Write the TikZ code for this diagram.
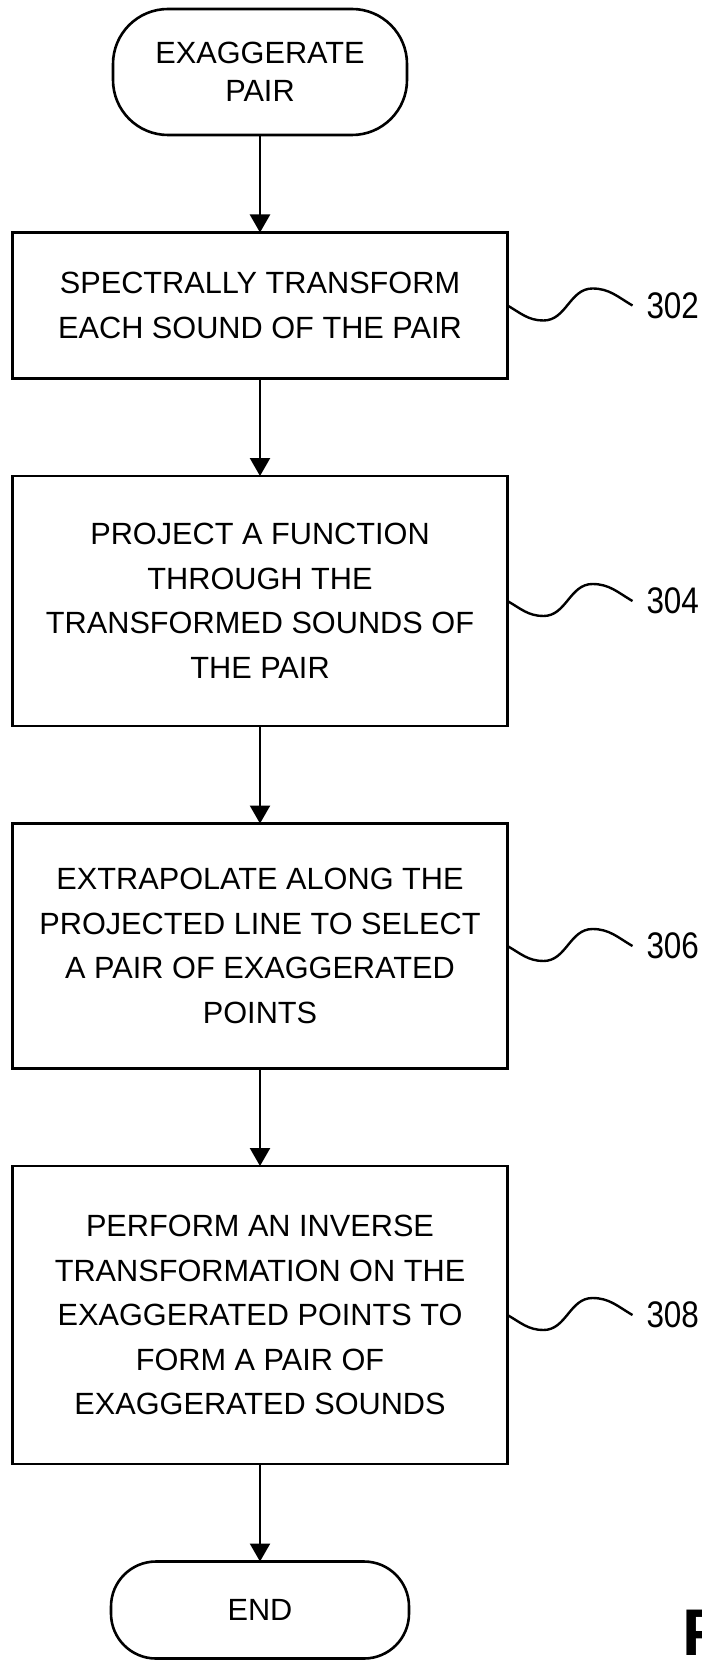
\documentclass[tikz,border=0pt]{standalone}
\usepackage{fontspec}
\setmainfont{Liberation Sans}
\newfontfamily\numfont[FakeStretch=0.85]{Liberation Sans}
\usetikzlibrary{positioning,arrows.meta}

\tikzset{
	stepbox/.style={draw, line width=2.6pt, minimum width=495pt, align=center, inner sep=0pt, outer sep=0pt, font=\fontsize{30.7}{44.5}\selectfont},
	terminal/.style={draw, line width=2.6pt, rounded corners=#1, align=center, inner sep=0pt, outer sep=0pt, font=\fontsize{30.7}{38}\selectfont},
	flow/.style={line width=2.4pt, -{Triangle[width=20pt,length=18pt]}},
	wave/.style={line width=2.4pt},
	numlabel/.style={inner sep=0pt, outer xsep=14pt, font=\numfont\fontsize{37}{37}\selectfont},
}

\begin{document}
\begin{tikzpicture}[x=1pt,y=1pt]
	\useasboundingbox (0,0) rectangle (701,-1661);
	% flow column
	\node[terminal=55pt, minimum width=294pt, minimum height=126pt] (start) at (260,-72) {EXAGGERATE\\PAIR};
	\node[stepbox, minimum height=146pt, below=97.5pt of start] (spectral) {SPECTRALLY TRANSFORM\\EACH SOUND OF THE PAIR};
	\node[stepbox, minimum height=250pt, below=97.5pt of spectral] (project) {PROJECT A FUNCTION\\THROUGH THE\\TRANSFORMED SOUNDS OF\\THE PAIR};
	\node[stepbox, minimum height=245pt, below=97.5pt of project] (extrapolate) {EXTRAPOLATE ALONG THE\\PROJECTED LINE TO SELECT\\A PAIR OF EXAGGERATED\\POINTS};
	\node[stepbox, minimum height=298pt, below=97.5pt of extrapolate] (inverse) {PERFORM AN INVERSE\\TRANSFORMATION ON THE\\EXAGGERATED POINTS TO\\FORM A PAIR OF\\EXAGGERATED SOUNDS};
	\node[terminal=45pt, minimum width=298pt, minimum height=97pt, below=97.5pt of inverse] (finish) {END};

	% reference numerals
	\node[numlabel, right=125pt of spectral] (n302) {302};
	\node[numlabel, right=125pt of project] (n304) {304};
	\node[numlabel, right=125pt of extrapolate] (n306) {306};
	\node[numlabel, right=125pt of inverse] (n308) {308};
	\node[font=\bfseries\fontsize{66}{66}\selectfont, anchor=base west, inner sep=0pt] (figlabel) at (682,-1655) {F};

	\path[flow]
	(start) edge (spectral)
	(spectral) edge (project)
	(project) edge (extrapolate)
	(extrapolate) edge (inverse)
	(inverse) edge (finish);

	\draw[wave] (spectral.east) to[out=-30,in=180] ++(36,-15) to[out=0,in=180] ++(49,32) to[out=0,in=150] (n302.west);
	\draw[wave] (project.east) to[out=-30,in=180] ++(36,-15) to[out=0,in=180] ++(49,32) to[out=0,in=150] (n304.west);
	\draw[wave] (extrapolate.east) to[out=-30,in=180] ++(36,-15) to[out=0,in=180] ++(49,32) to[out=0,in=150] (n306.west);
	\draw[wave] (inverse.east) to[out=-30,in=180] ++(36,-15) to[out=0,in=180] ++(49,32) to[out=0,in=150] (n308.west);
\end{tikzpicture}
\end{document}
